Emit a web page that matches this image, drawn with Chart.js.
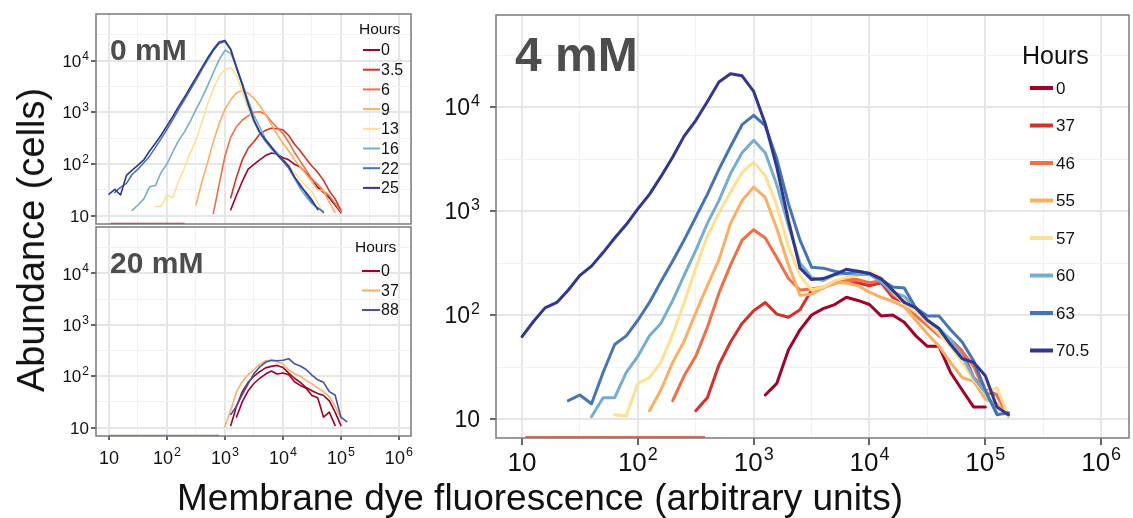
<!DOCTYPE html>
<html>
<head>
<meta charset="utf-8">
<script src="https://cdn.jsdelivr.net/npm/chart.js@4.4.1/dist/chart.umd.min.js"></script>
<style>
  body { margin: 0; background: #fff; width: 1133px; height: 518px; overflow: hidden; position: relative;
         font-family: "Liberation Sans", Arial, Helvetica, sans-serif; color: #111; }
  canvas { position: absolute; }
  .lbl { position: absolute; white-space: nowrap; line-height: 1; }
  .panel { font-weight: bold; color: #4d4d4d; }
</style>
</head>
<body>
<canvas id="chart0" width="380" height="230" style="left:40px;top:0px"></canvas>
<canvas id="chart20" width="380" height="250" style="left:40px;top:226px"></canvas>
<canvas id="chart4" width="703" height="490" style="left:430px;top:0px"></canvas>

<div class="lbl panel" style="left:110px;top:34.6px;font-size:30px">0 mM</div>
<div class="lbl panel" style="left:110px;top:247.6px;font-size:30px">20 mM</div>
<div class="lbl panel" style="left:515px;top:31.4px;font-size:48px">4 mM</div>
<div class="lbl" style="left:540px;top:478.7px;font-size:37px;transform:translateX(-50%)">Membrane dye fluorescence (arbitrary units)</div>
<div class="lbl" style="left:31px;top:240px;font-size:38px;transform:translate(-50%,-50%) rotate(-90deg)">Abundance (cells)</div>

<script>
//histogram bin centres (arbitrary units), shared by every panel
const bins = [10, 12.6, 15.8, 20, 25.1, 31.6, 39.8, 50.1, 63.1, 79.4,
  100, 126, 158, 200, 251, 316, 398, 501, 631, 794,
  1000, 1259, 1585, 1995, 2512, 3162, 3981, 5012, 6310, 7943,
  10000, 12589, 15849, 19953, 25119, 31623, 39811, 50119, 63096, 79433,
  100000, 125893, 158489, 199526];

//axis ticks (decades get a label, half decades only a grid line)
const xTicks = [10, 31.6, 100, 316, 1000, 3162, 10000, 31623, 100000, 316228, 1000000];
const yTicks = [10, 31.6, 100, 316, 1000, 3162, 10000, 31623];

//0 mM panel (cells per bin), each series starts at the bin given in zeroStart
const zeroHours = ['0', '3.5', '6', '9', '13', '16', '22', '25'];
const zeroStart = [1259, 1259, 631, 316, 63.1, 25.1, 12.6, 10];
const zero_0 = [13, 25, 46, 79, 98, 120, 145, 162, 155, 132, 120, 98, 87, 66, 51, 35, 28, 22, 16, 11.5];
const zero_3_5 = [22, 56, 120, 200, 269, 380, 447, 490, 479, 457, 355, 240, 178, 126, 91, 69, 48, 30, 21, 12.6];
const zero_6 = [11, 40, 141, 331, 525, 708, 851, 1000, 1023, 912, 661, 501, 389, 263, 166, 112, 76, 50, 40, 30, 24, 17, 12];
const zero_9 = [16, 44, 105, 269, 603, 1148, 1738, 2399, 2630, 2344, 1862, 1349, 912, 575, 372, 251, 178, 120, 87, 63, 45, 32, 30, 18, 11.5];
const zero_13 = [15, 15, 25, 22, 46, 83, 158, 288, 631, 1413, 2818, 5012, 6761, 7244, 5248, 2399, 1175, 631, 398, 275, 195, 151, 120, 91, 68, 49, 37, 29, 18, 10.7];
const zero_16 = [12.6, 16, 21, 36, 38, 69, 100, 170, 282, 417, 661, 1122, 1862, 3236, 5888, 10471, 15849, 13804, 7586, 3631, 1698, 871, 513, 302, 214, 166, 112, 83, 52, 33, 23, 17, 14, 12];
const zero_22 = [28, 35, 42, 63, 79, 105, 141, 209, 309, 468, 724, 1122, 1738, 2692, 4169, 6607, 10233, 15488, 21380, 23442, 16596, 7586, 3311, 1413, 676, 398, 275, 200, 151, 112, 83, 55, 40, 26, 18, 14, 11.5];
const zero_25 = [26, 32, 25, 60, 76, 95, 120, 178, 251, 363, 550, 832, 1288, 1950, 3020, 4677, 7244, 11220, 16596, 22909, 24547, 16218, 7079, 3467, 1514, 708, 417, 295, 214, 151, 120, 91, 56, 37, 28, 20, 13];
const zeroEmptyBins = [10.7, 200];

//20 mM panel
const twentyHours = ['0', '0', '37', '88'];
const twentyStart = [1259, 1585, 1000, 1259];
const twenty_0a = [11, 26, 50, 76, 100, 123, 145, 155, 162, 148, 115, 91, 76, 60, 52, 46, 42, 33, 20, 11];
const twenty_0b = [16, 32, 52, 72, 91, 110, 126, 110, 115, 107, 78, 66, 58, 42, 38, 16, 20, 11];
const twenty_37 = [10.5, 22, 50, 79, 107, 135, 170, 200, 204, 191, 174, 132, 112, 100, 83, 71, 59, 50, 40, 26, 15];
const twenty_88 = [18, 26, 44, 71, 112, 151, 186, 204, 200, 204, 219, 174, 158, 135, 105, 85, 76, 50, 43, 16, 13];
const twentyEmptyBins = [10, 790];

//4 mM panel
const fourHours = ['0', '37', '46', '55', '57', '60', '63', '70.5'];
const fourStart = [1259, 316, 200, 126, 63.1, 39.8, 25.1, 10];
const four_0 = [17, 22, 46, 72, 100, 115, 126, 148, 138, 126, 98, 100, 85, 63, 50, 50, 28, 19, 13, 13];
const four_37 = [12, 16, 33, 55, 83, 110, 132, 102, 95, 112, 174, 182, 209, 204, 204, 191, 204, 148, 132, 102, 83, 66, 58, 45, 25, 19, 17, 10.7];
const four_46 = [15, 26, 40, 76, 162, 302, 525, 661, 550, 355, 224, 174, 178, 186, 200, 219, 219, 204, 214, 158, 135, 98, 79, 63, 56, 45, 32, 18, 17, 10.7];
const four_55 = [12, 19, 35, 56, 105, 191, 339, 759, 1259, 1698, 1349, 676, 302, 155, 158, 182, 204, 204, 191, 166, 148, 135, 120, 89, 66, 50, 35, 25, 23, 15.5, 14, 10.7];
const four_57 = [11, 10.7, 22, 25, 35, 65, 132, 282, 575, 955, 1514, 2344, 2951, 2188, 1122, 457, 240, 174, 186, 214, 229, 240, 263, 229, 166, 129, 107, 85, 66, 50, 35, 24, 18, 20, 10.7];
const four_60 = [10.5, 16, 16, 28, 40, 63, 83, 138, 240, 417, 759, 1259, 2291, 3631, 4786, 3631, 1778, 724, 316, 229, 214, 245, 251, 245, 245, 209, 166, 151, 117, 89, 74, 58, 40, 25, 18, 11.5];
const four_63 = [15, 17, 14, 28, 52, 63, 89, 132, 209, 331, 525, 871, 1445, 2512, 4169, 6761, 8318, 6607, 3162, 1175, 525, 288, 282, 263, 251, 263, 251, 219, 186, 182, 117, 98, 98, 72, 55, 36, 19, 11, 11.5];
const four_70_5 = [62, 87, 117, 132, 174, 240, 295, 398, 550, 741, 1047, 1445, 2138, 3311, 5248, 7413, 11220, 17378, 20893, 19953, 14125, 6918, 2630, 813, 282, 219, 224, 245, 275, 263, 251, 224, 174, 132, 117, 89, 74, 52, 38, 35, 26, 13, 11];
const fourEmptyBins = [10.7, 380];

//colours (RdYlBu)
const rdylbu = ['#A50026', '#D73027', '#F46D43', '#FDAE61', '#FEE090', '#74ADD1', '#4575B4', '#313695'];
const twentyColors = ['#A50026', '#A50026', '#FDAE61', '#4453A8'];

const FONT = '"Liberation Sans", Arial, Helvetica, sans-serif';
const isMajor = (v) => Math.abs(Math.log10(v) - Math.round(Math.log10(v))) < 0.01;

const toPoints = (start, ys) => {
    const i0 = bins.indexOf(start);
    return ys.map((y, i) => ({ x: bins[i0 + i], y: y }));
};

//legend drawn inside the panel, like the ggplot one
const hoursLegend = {
    id: 'hoursLegend',
    afterDatasetsDraw(chart, args, o) {
        const ctx = chart.ctx;
        ctx.save();
        ctx.fillStyle = '#111';
        ctx.textBaseline = 'middle';
        ctx.textAlign = 'left';
        ctx.font = `${o.titleSize}px ${FONT}`;
        ctx.fillText('Hours', o.titleX, o.titleY);
        ctx.font = `${o.labelSize}px ${FONT}`;
        let row = 0;
        chart.data.datasets.forEach(ds => {
            if (ds.noLegend) return;
            const y = o.firstY + row * o.step;
            ctx.strokeStyle = ds.borderColor;
            ctx.lineWidth = o.lineWidth;
            ctx.beginPath();
            ctx.moveTo(o.lineX, y);
            ctx.lineTo(o.lineX + o.lineLen, y);
            ctx.stroke();
            ctx.fillText(ds.label, o.labelX, y + 1);
            row++;
        });
        ctx.restore();
    }
};

//grey frame round the plot area
const panelFrame = {
    id: 'panelFrame',
    afterDatasetsDraw(chart) {
        const { ctx, chartArea: a } = chart;
        ctx.save();
        ctx.strokeStyle = '#7a7a7a';
        ctx.lineWidth = 1.5;
        ctx.strokeRect(a.left, a.top, a.right - a.left, a.bottom - a.top);
        ctx.restore();
    }
};

//decade labels as 10 with a raised exponent, placed with the scale's own pixels
const supTicks = {
    id: 'supTicks',
    afterDraw(chart, args, o) {
        const ctx = chart.ctx;
        ctx.save();
        ctx.fillStyle = '#111';
        ctx.textAlign = 'left';
        ctx.textBaseline = 'alphabetic';
        ['x', 'y'].forEach(key => {
            const s = o[key];
            if (!s) return;
            const scale = chart.scales[key];
            scale.ticks.forEach(t => {
                if (!isMajor(t.value)) return;
                const e = Math.round(Math.log10(t.value));
                const sup = e > 1 ? String(e) : '';
                ctx.font = `${s.size}px ${FONT}`;
                const wb = ctx.measureText('10').width;
                ctx.font = `${s.supSize}px ${FONT}`;
                const we = sup ? ctx.measureText(sup).width + 1 : 0;
                const p = scale.getPixelForValue(t.value);
                let x0, yb;
                if (key === 'x') {
                    x0 = p - (wb + we) / 2;
                    yb = s.baseline;
                } else {
                    x0 = s.right - wb - we;
                    yb = p + s.size * 0.36;
                }
                ctx.font = `${s.size}px ${FONT}`;
                ctx.fillText('10', x0, yb);
                if (sup) {
                    ctx.font = `${s.supSize}px ${FONT}`;
                    ctx.fillText(sup, x0 + wb + 1, yb - s.size * 0.42);
                }
            });
        });
        ctx.restore();
    }
};

const logAxis = (ticksArr, min, max, tickLen, fit) => ({
    type: 'logarithmic',
    min: min,
    max: max,
    afterBuildTicks: (s) => { s.ticks = ticksArr.map(v => ({ value: v })); },
    afterFit: fit,
    ticks: { display: false, autoSkip: false },
    grid: {
        color: (c) => (c.tick && isMajor(c.tick.value)) ? '#E6E6E6' : '#F2F2F2',
        lineWidth: (c) => (c.tick && isMajor(c.tick.value)) ? 2 : 1,
        drawTicks: tickLen > 0,
        tickLength: tickLen,
        tickWidth: 1.5,
        tickColor: (c) => (c.tick && isMajor(c.tick.value)) ? '#333' : 'rgba(0,0,0,0)'
    },
    border: { display: false }
});

const lineSet = (label, color, points, width, order) => ({
    label: label,
    data: points,
    borderColor: color,
    backgroundColor: color,
    borderWidth: width,
    pointRadius: 0,
    tension: 0,
    fill: false,
    clip: 0,
    order: order,
    borderJoinStyle: 'round',
    borderCapStyle: 'round'
});

const emptySet = (xs, yMin, color, width) => ({
    label: 'none',
    noLegend: true,
    data: xs.map(x => ({ x: x, y: yMin })),
    borderColor: color,
    borderWidth: width,
    pointRadius: 0,
    clip: 0,
    order: 100
});

const makePanel = (id, cfg) => new Chart(document.getElementById(id), {
    type: 'line',
    data: { datasets: cfg.datasets },
    options: {
        responsive: false,
        animation: false,
        events: [],
        layout: { padding: cfg.padding },
        plugins: {
            legend: { display: false },
            tooltip: { enabled: false },
            hoursLegend: cfg.legend,
            supTicks: cfg.labels
        },
        scales: { x: cfg.x, y: cfg.y }
    },
    plugins: [panelFrame, hoursLegend, supTicks]
});

//axis ranges
const X_MIN = 5.96, X_MAX_LEFT = 1620000, X_MAX_RIGHT = 1740000;
const Y_MIN_LEFT = 6.85, Y_MAX_LEFT = 80000;
const Y_MIN_RIGHT = 6.56, Y_MAX_RIGHT = 76700;

//0 mM
const zeroSeries = [zero_0, zero_3_5, zero_6, zero_9, zero_13, zero_16, zero_22, zero_25];
makePanel('chart0', {
    datasets: zeroSeries.map((ys, i) => lineSet(zeroHours[i], rdylbu[i], toPoints(zeroStart[i], ys), 1.6, 20 - i))
        .concat([emptySet(zeroEmptyBins, Y_MIN_LEFT, '#B5333F', 2.5)]),
    padding: { top: 14, right: 9, left: 0, bottom: 0 },
    x: logAxis(xTicks, X_MIN, X_MAX_LEFT, 0, (s) => { s.height = 6; }),
    y: logAxis(yTicks, Y_MIN_LEFT, Y_MAX_LEFT, 5, (s) => { s.width = 56; }),
    labels: { y: { size: 17, supSize: 12, right: 49 } },
    legend: { titleX: 319, titleY: 30, titleSize: 15.5, labelSize: 16, lineX: 323, lineLen: 17, labelX: 341, firstY: 50, step: 19.7, lineWidth: 2 }
});

//20 mM
const twentySeries = [twenty_0a, twenty_0b, twenty_37, twenty_88];
const twentySets = twentySeries.map((ys, i) => lineSet(twentyHours[i], twentyColors[i], toPoints(twentyStart[i], ys), 1.6, 20 - i));
twentySets[1].noLegend = true;
makePanel('chart20', {
    datasets: twentySets.concat([emptySet(twentyEmptyBins, Y_MIN_LEFT, '#8B7BA8', 2.5)]),
    padding: { top: 1, right: 9, left: 0, bottom: 0 },
    x: logAxis(xTicks, X_MIN, X_MAX_LEFT, 4, (s) => { s.height = 40; }),
    y: logAxis(yTicks, Y_MIN_LEFT, Y_MAX_LEFT, 5, (s) => { s.width = 56; }),
    labels: { x: { size: 18, supSize: 12.5, baseline: 238 }, y: { size: 17, supSize: 12, right: 49 } },
    legend: { titleX: 315, titleY: 22, titleSize: 15.5, labelSize: 16, lineX: 322, lineLen: 18, labelX: 341, firstY: 45, step: 19.5, lineWidth: 2 }
});

//4 mM
const fourSeries = [four_0, four_37, four_46, four_55, four_57, four_60, four_63, four_70_5];
makePanel('chart4', {
    datasets: fourSeries.map((ys, i) => lineSet(fourHours[i], rdylbu[i], toPoints(fourStart[i], ys), 3, 20 - i))
        .concat([emptySet(fourEmptyBins, Y_MIN_RIGHT, '#E0705F', 4)]),
    padding: { top: 15, right: 4, left: 0, bottom: 0 },
    x: logAxis(xTicks, X_MIN, X_MAX_RIGHT, 7, (s) => { s.height = 52; }),
    y: logAxis(yTicks, Y_MIN_RIGHT, Y_MAX_RIGHT, 6, (s) => { s.width = 66; }),
    labels: { x: { size: 26, supSize: 18, baseline: 471 }, y: { size: 23, supSize: 16, right: 50 } },
    legend: { titleX: 592, titleY: 57, titleSize: 25, labelSize: 17, lineX: 600, lineLen: 23, labelX: 626, firstY: 88, step: 37.5, lineWidth: 4 }
});
</script>
</body>
</html>
